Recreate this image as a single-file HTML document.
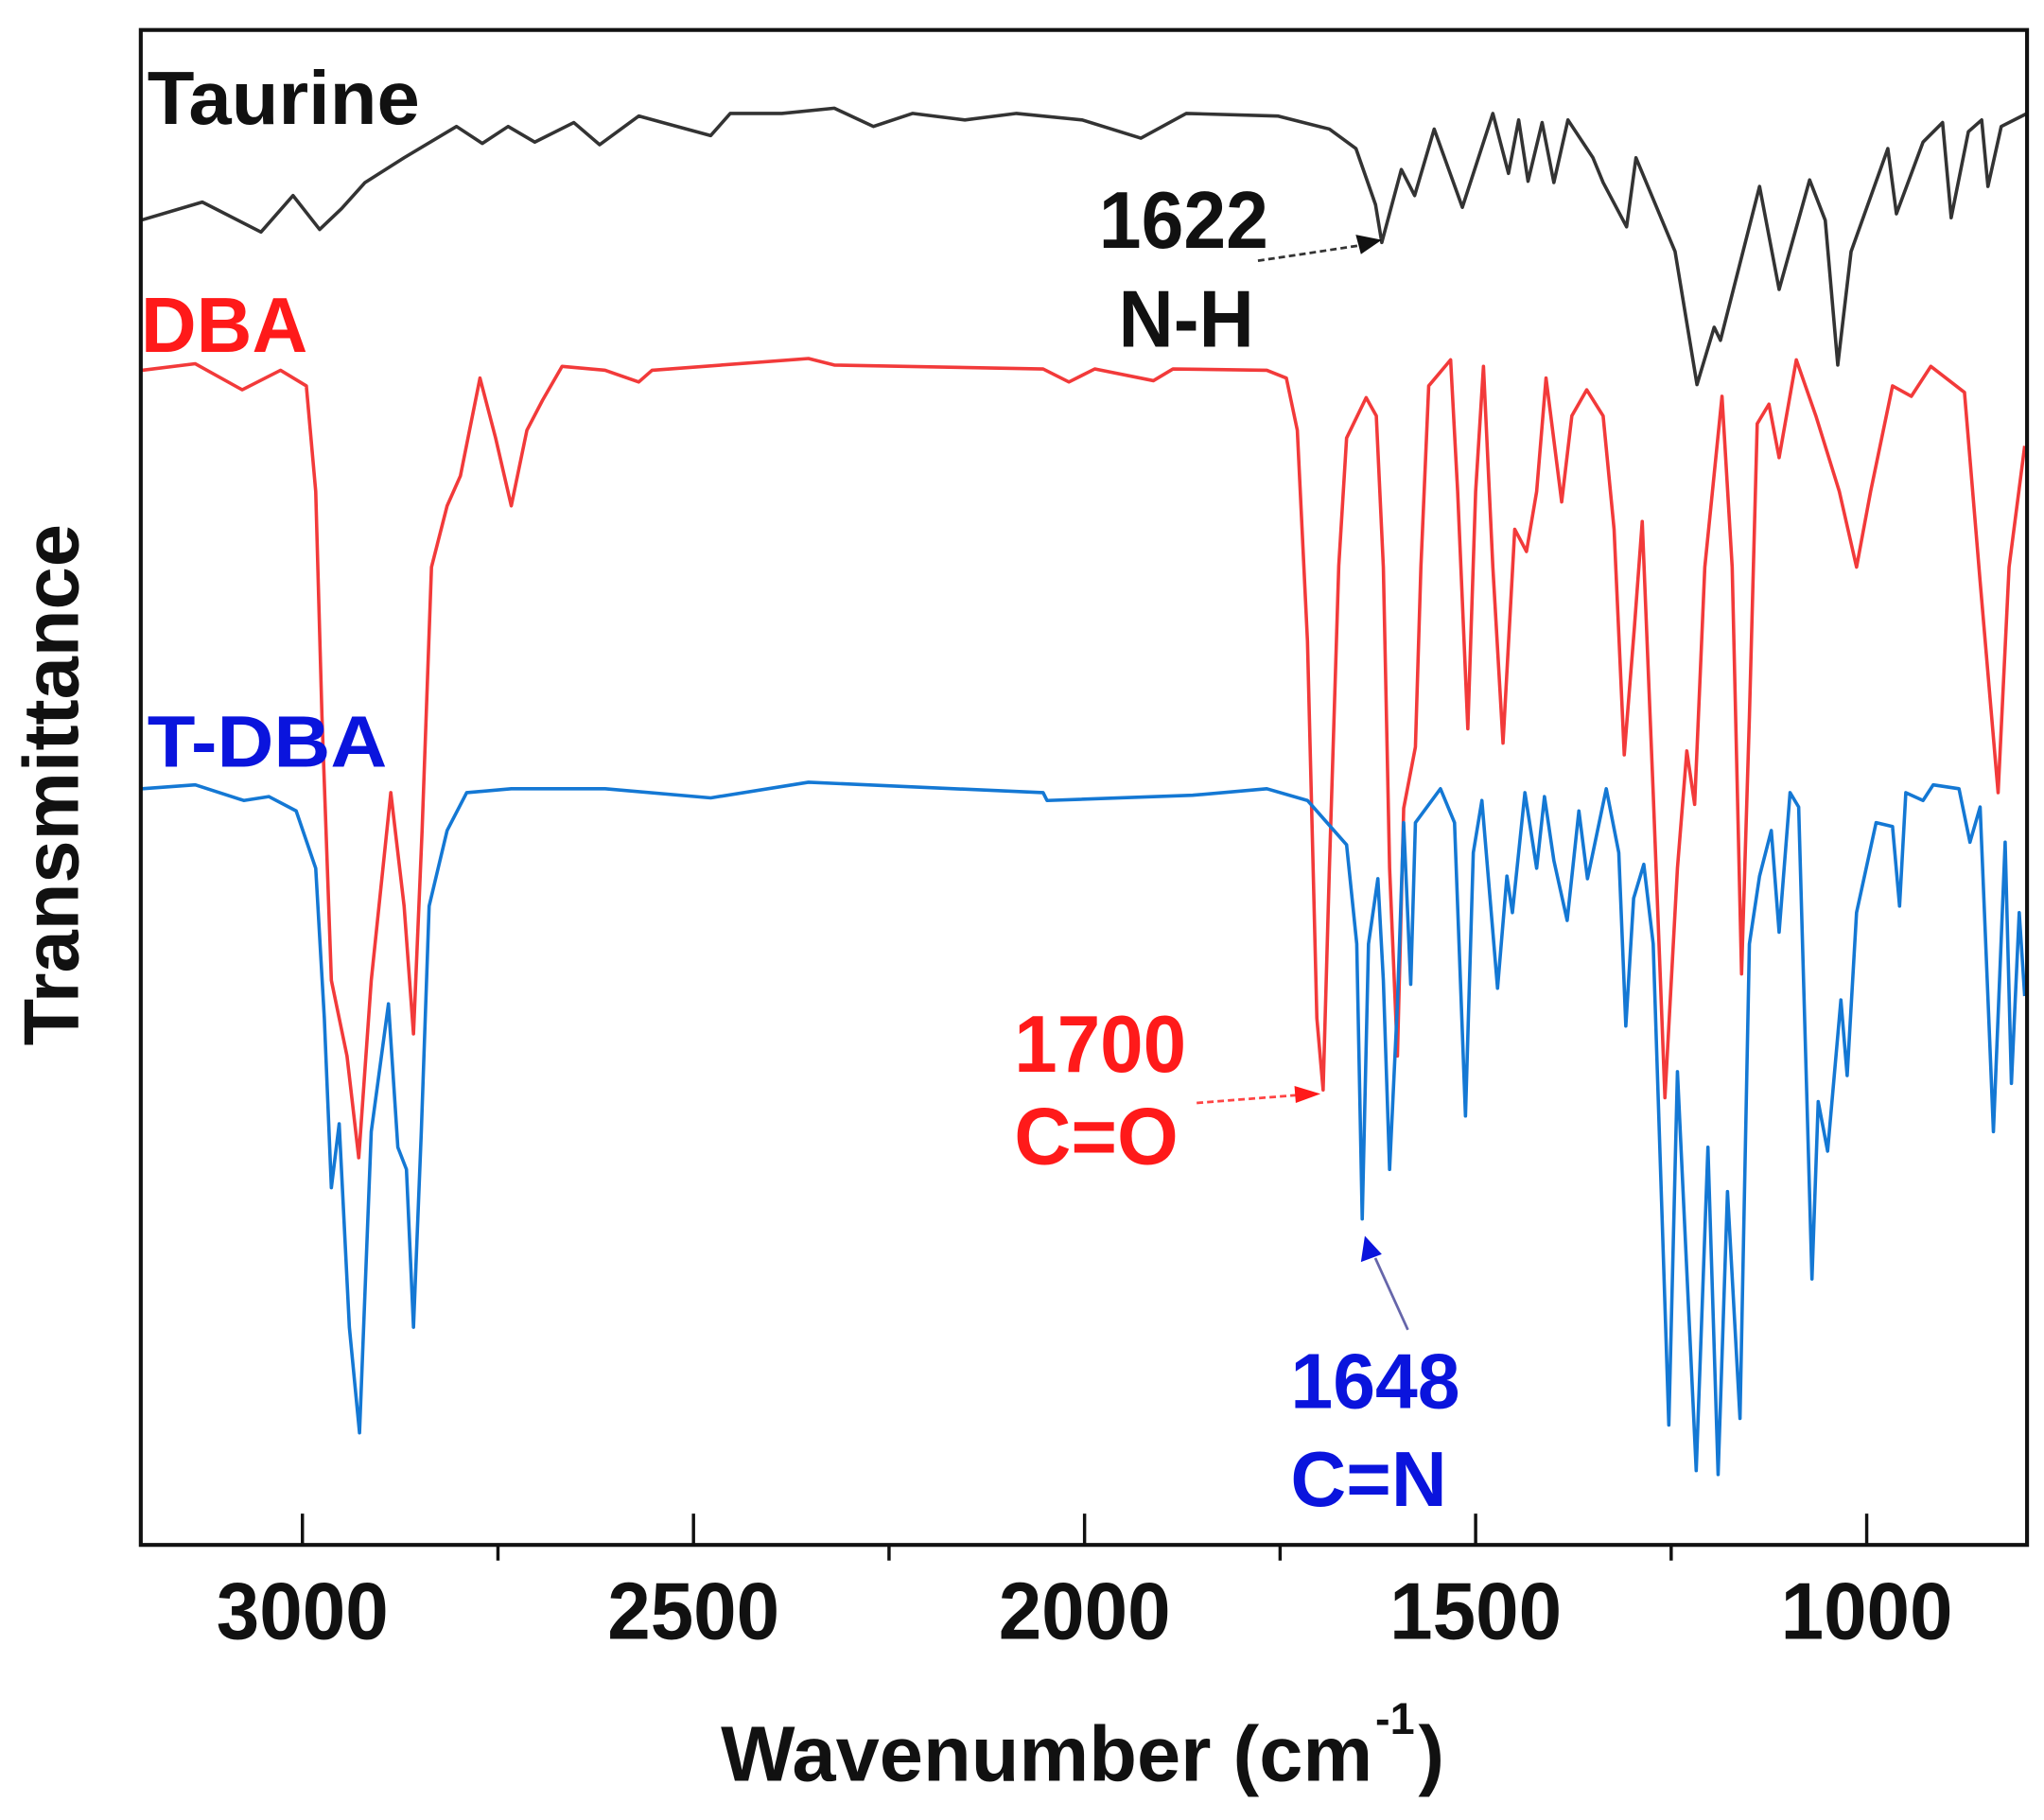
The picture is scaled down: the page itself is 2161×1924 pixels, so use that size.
<!DOCTYPE html>
<html><head><meta charset="utf-8"><style>
html,body{margin:0;padding:0;background:#fff;}
svg{display:block;}
text{font-family:"Liberation Sans",Arial,sans-serif;font-weight:bold;}
</style></head><body>
<svg id="chart" width="2161" height="1924" viewBox="0 0 1568 1396" preserveAspectRatio="none" xmlns="http://www.w3.org/2000/svg">
<g id="series"></g>
<g id="axes"></g>
<text x="113" y="95" font-size="58" fill="#111" textLength="209" lengthAdjust="spacingAndGlyphs">Taurine</text>
<text x="108" y="270" font-size="60" fill="#ff1a1a" textLength="128" lengthAdjust="spacingAndGlyphs">DBA</text>
<text x="113" y="588" font-size="56" fill="#0a14dd" textLength="184" lengthAdjust="spacingAndGlyphs">T-DBA</text>
<text x="843" y="190" font-size="62" fill="#111" textLength="130" lengthAdjust="spacingAndGlyphs">1622</text>
<text x="858" y="266" font-size="62" fill="#111" textLength="104" lengthAdjust="spacingAndGlyphs">N-H</text>
<line x1="965" y1="200" x2="1045" y2="188" stroke="#333" stroke-width="2" stroke-dasharray="5,3"/>
<polygon points="1060,184 1040,180 1044,195" fill="#111"/>
<text x="778" y="822" font-size="62" fill="#ff1a1a" textLength="132" lengthAdjust="spacingAndGlyphs">1700</text>
<text x="778" y="893" font-size="62" fill="#ff1a1a" textLength="126" lengthAdjust="spacingAndGlyphs">C=O</text>
<line x1="918" y1="846" x2="995" y2="840" stroke="#ff4444" stroke-width="2" stroke-dasharray="5,3"/>
<polygon points="1013,839 993,833 994,846" fill="#ff1a1a"/>
<text x="990" y="1080" font-size="60" fill="#0a14dd" textLength="130" lengthAdjust="spacingAndGlyphs">1648</text>
<text x="990" y="1155" font-size="60" fill="#0a14dd" textLength="120" lengthAdjust="spacingAndGlyphs">C=N</text>
<line x1="1080" y1="1020" x2="1055" y2="965" stroke="#6666aa" stroke-width="2"/>
<polygon points="1047,948 1044,968 1060,962" fill="#0a14dd"/>
<text x="553" y="1366" font-size="60" fill="#111" textLength="500" lengthAdjust="spacingAndGlyphs">Wavenumber (cm</text>
<text x="1055" y="1330" font-size="34" fill="#111">-1</text>
<text x="1088" y="1366" font-size="60" fill="#111">)</text>
<text transform="translate(60,602) rotate(-90)" text-anchor="middle" font-size="60" fill="#111" textLength="400" lengthAdjust="spacingAndGlyphs">Transmittance</text>
</svg>
<script>
var tickValues=[3000,2500,2000,1500,1000];
var minorTickValues=[2750,2250,1750,1250];
var tickLabels=["3000","2500","2000","1500","1000"];
var taurineW=[3207,3128,3053,3012,2978,2950,2920,2870,2803,2770,2737,2703,2653,2620,2570,2478,2453,2387,2320,2270,2220,2153,2087,2003,1928,1870,1753,1687,1653,1628,1620,1595,1578,1553,1517,1478,1458,1445,1433,1415,1400,1382,1350,1337,1307,1295,1245,1217,1195,1187,1137,1112,1073,1053,1037,1020,973,962,928,903,892,870,853,845,828,795];
var taurineT=[1016,1030,1007,1035,1009,1025,1045,1064,1088,1075,1088,1076,1091,1074,1096,1081,1098,1098,1102,1088,1098,1093,1098,1093,1079,1098,1096,1086,1071,1028,999,1055,1035,1086,1026,1098,1052,1093,1046,1091,1045,1093,1064,1045,1011,1064,992,890,934,924,1042,963,1047,1016,905,992,1071,1021,1076,1091,1018,1084,1093,1042,1088,1098];
var dbaW=[3205,3137,3077,3028,2995,2983,2975,2963,2943,2928,2912,2887,2870,2858,2847,2835,2815,2798,2773,2753,2733,2713,2693,2668,2613,2570,2553,2353,2320,2053,2020,1987,1912,1887,1767,1742,1728,1715,1703,1695,1687,1675,1665,1640,1627,1618,1610,1600,1592,1577,1570,1560,1532,1523,1510,1500,1490,1478,1465,1450,1435,1422,1410,1390,1377,1358,1337,1323,1310,1297,1287,1273,1258,1242,1230,1220,1207,1185,1172,1160,1150,1140,1125,1112,1090,1065,1035,1013,995,967,943,918,875,855,832,818,798];
var dbaT=[901,906,886,901,889,808,635,433,375,297,433,577,490,392,548,750,797,820,895,849,797,855,878,904,901,892,901,910,905,902,892,902,893,902,901,895,855,693,404,349,519,751,849,880,866,750,519,375,565,612,750,889,909,808,626,808,904,750,615,779,762,808,895,800,866,886,866,779,606,704,785,577,343,519,609,568,750,881,750,438,635,860,875,834,909,866,808,750,808,889,881,904,884,739,577,750,843];
var tdbaW=[3205,3137,3075,3043,3008,2983,2972,2963,2953,2940,2927,2912,2890,2878,2867,2858,2848,2838,2815,2790,2733,2613,2478,2353,2053,2048,1862,1767,1715,1665,1652,1645,1637,1625,1618,1610,1600,1592,1583,1577,1545,1527,1513,1503,1492,1472,1460,1453,1437,1422,1412,1400,1383,1368,1357,1333,1317,1308,1298,1285,1273,1253,1242,1218,1203,1190,1178,1162,1150,1137,1122,1112,1098,1087,1070,1062,1050,1033,1025,1013,988,967,958,950,928,915,882,868,855,838,823,815,805,798];
var tdbaT=[580,583,571,574,563,519,404,274,323,167,86,317,415,305,288,167,317,490,548,577,580,580,573,585,577,571,575,580,571,537,461,250,461,511,433,288,415,554,430,554,580,554,329,531,571,427,513,485,577,519,574,525,479,563,511,580,531,398,496,522,461,92,363,57,305,54,271,97,461,513,548,470,577,566,204,340,302,418,360,485,554,551,490,577,571,583,580,539,566,317,539,354,485,421];

var NS="http://www.w3.org/2000/svg";
var X0=108,X1=1555,Y0=23,Y1=1185;
function xs(w){return 232+(3000-w)*0.6;}
function ys(v){return Y1-v;}
var svg=document.getElementById('chart');
var series=document.getElementById('series');
var axes=document.getElementById('axes');
var defs=document.createElementNS(NS,'defs');
defs.innerHTML='<clipPath id="plotclip"><rect x="108" y="23" width="1447" height="1162"/></clipPath>';
svg.insertBefore(defs,svg.firstChild);
series.setAttribute('clip-path','url(#plotclip)');
function drawLine(W,T,color,name){
  var d='';
  for(var i=0;i<W.length;i++){d+=(i?'L':'M')+xs(W[i]).toFixed(1)+','+ys(T[i]).toFixed(1);}
  var p=document.createElementNS(NS,'path');
  p.setAttribute('d',d);p.setAttribute('fill','none');p.setAttribute('stroke',color);
  p.setAttribute('stroke-width','2.6');p.setAttribute('stroke-linejoin','round');
  
  
  series.appendChild(p);
}
drawLine(taurineW,taurineT,'#333333','taurine-spectrum');
drawLine(dbaW,dbaT,'#f23a3a','dba-spectrum');
drawLine(tdbaW,tdbaT,'#1478d4','t-dba-spectrum');

var frame=document.createElementNS(NS,'rect');
frame.setAttribute('x',X0);frame.setAttribute('y',Y0);frame.setAttribute('width',X1-X0);frame.setAttribute('height',Y1-Y0);
frame.setAttribute('fill','none');frame.setAttribute('stroke','#111');frame.setAttribute('stroke-width','3');


axes.appendChild(frame);
for(var i=0;i<tickValues.length;i++){
  var x=xs(tickValues[i]);
  var t=document.createElementNS(NS,'line');
  t.setAttribute('x1',x);t.setAttribute('x2',x);t.setAttribute('y1',Y1);t.setAttribute('y2',Y1-24);
  t.setAttribute('stroke','#111');t.setAttribute('stroke-width','2.5');
  
  
  axes.appendChild(t);
  var l=document.createElementNS(NS,'text');
  l.setAttribute('x',x);l.setAttribute('y',1257);l.setAttribute('text-anchor','middle');
  l.setAttribute('font-size','62');l.setAttribute('fill','#111');
  l.setAttribute('textLength','132');l.setAttribute('lengthAdjust','spacingAndGlyphs');
  l.textContent=tickLabels[i];
  
  
  axes.appendChild(l);
}
for(var j=0;j<minorTickValues.length;j++){
  var mx=xs(minorTickValues[j]);
  var m=document.createElementNS(NS,'line');
  m.setAttribute('x1',mx);m.setAttribute('x2',mx);m.setAttribute('y1',Y1);m.setAttribute('y2',Y1+12);
  m.setAttribute('stroke','#111');m.setAttribute('stroke-width','2.5');
  
  
  axes.appendChild(m);
}
</script>
</body></html>
